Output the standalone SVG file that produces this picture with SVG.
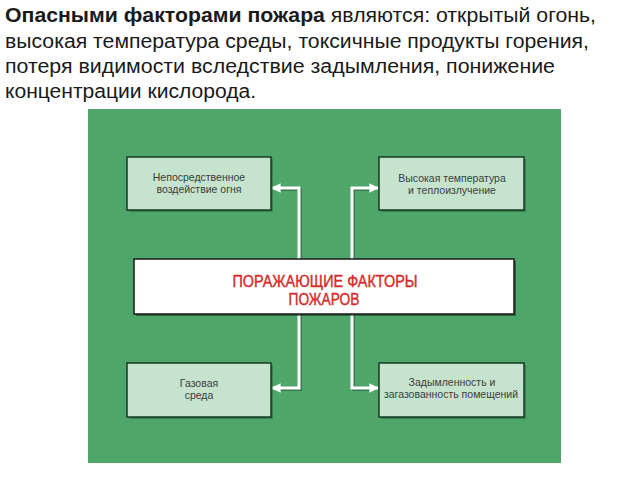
<svg xmlns="http://www.w3.org/2000/svg" width="640" height="480" viewBox="0 0 640 480">
<defs>
<style>
.title{font-family:"Liberation Sans",Arial,sans-serif;font-size:19.5px;fill:#1a1a1a}
.node rect{fill:#c6e4cd;stroke:#163a22;stroke-width:1.5}
.node .sh{fill:#2f6a40;stroke:none;opacity:0.6}
.lbl{font-family:"Liberation Sans",Arial,sans-serif;font-size:10.5px;fill:#3c3c3c;text-anchor:middle}
.ctr{font-family:"Liberation Sans",Arial,sans-serif;font-size:16px;fill:#d42a2a;stroke:#d42a2a;stroke-width:0.4;text-anchor:middle}
.ln{fill:none;stroke:#fff;stroke-width:3}
.lnsh{fill:none;stroke:#2a5c3a;stroke-width:3;opacity:0.6}
</style>
<marker id="ah" viewBox="0 0 10 10" refX="9" refY="5" markerWidth="3.2" markerHeight="3.2" orient="auto" markerUnits="strokeWidth">
<path d="M0,0 L10,5 L0,10 z" fill="#fff"/>
</marker>
</defs>
<rect width="640" height="480" fill="#fff"/>
<g id="heading">
<text class="title" x="5" y="22" textLength="591" lengthAdjust="spacingAndGlyphs"><tspan font-weight="bold">Опасными факторами пожара</tspan> являются: открытый огонь,</text>
<text class="title" x="5" y="48" textLength="584" lengthAdjust="spacingAndGlyphs">высокая температура среды, токсичные продукты горения,</text>
<text class="title" x="5" y="73" textLength="550" lengthAdjust="spacingAndGlyphs">потеря видимости вследствие задымления, понижение</text>
<text class="title" x="5" y="98" textLength="251" lengthAdjust="spacingAndGlyphs">концентрации кислорода.</text>
</g>
<rect id="panel" x="88" y="109" width="473" height="354" fill="#4ea66a"/>
<g id="connectors">
<path class="lnsh" d="M300.5,260 V189.5 H280"/>
<path class="lnsh" d="M353.5,260 V189.5 H370"/>
<path class="lnsh" d="M300.5,314 V389.5 H280"/>
<path class="lnsh" d="M353.5,314 V389.5 H370"/>
<path class="ln" d="M299,260 V188 H272" marker-end="url(#ah)"/>
<path class="ln" d="M352,260 V188 H378" marker-end="url(#ah)"/>
<path class="ln" d="M299,314 V388 H272" marker-end="url(#ah)"/>
<path class="ln" d="M352,314 V388 H378" marker-end="url(#ah)"/>
</g>
<g id="n1" class="node">
<rect class="sh" x="129" y="159" width="144" height="53"/>
<rect x="127" y="157" width="144" height="53"/>
<text class="lbl" x="199" y="181">Непосредственное</text>
<text class="lbl" x="199" y="193">воздействие огня</text>
</g>
<g id="n2" class="node">
<rect class="sh" x="381" y="159" width="145" height="53"/>
<rect x="379" y="157" width="145" height="53"/>
<text class="lbl" x="452" y="182">Высокая температура</text>
<text class="lbl" x="452" y="194">и теплоизлучение</text>
</g>
<g id="center">
<rect x="136" y="261" width="380" height="55" fill="#1d3a26" opacity="0.6"/>
<rect x="134" y="259" width="380" height="55" fill="#fff" stroke="#1a1a1a" stroke-width="1.5"/>
<text class="ctr" x="325" y="287" textLength="185" lengthAdjust="spacingAndGlyphs">ПОРАЖАЮЩИЕ  ФАКТОРЫ</text>
<text class="ctr" x="324" y="305" textLength="71" lengthAdjust="spacingAndGlyphs">ПОЖАРОВ</text>
</g>
<g id="n3" class="node">
<rect class="sh" x="129" y="365" width="144" height="54"/>
<rect x="127" y="363" width="144" height="54"/>
<text class="lbl" x="199" y="387">Газовая</text>
<text class="lbl" x="199" y="399">среда</text>
</g>
<g id="n4" class="node">
<rect class="sh" x="381" y="365" width="145" height="54"/>
<rect x="379" y="363" width="145" height="54"/>
<text class="lbl" x="452" y="386">Задымленность и</text>
<text class="lbl" x="451" y="398">загазованность помещений</text>
</g>
</svg>
